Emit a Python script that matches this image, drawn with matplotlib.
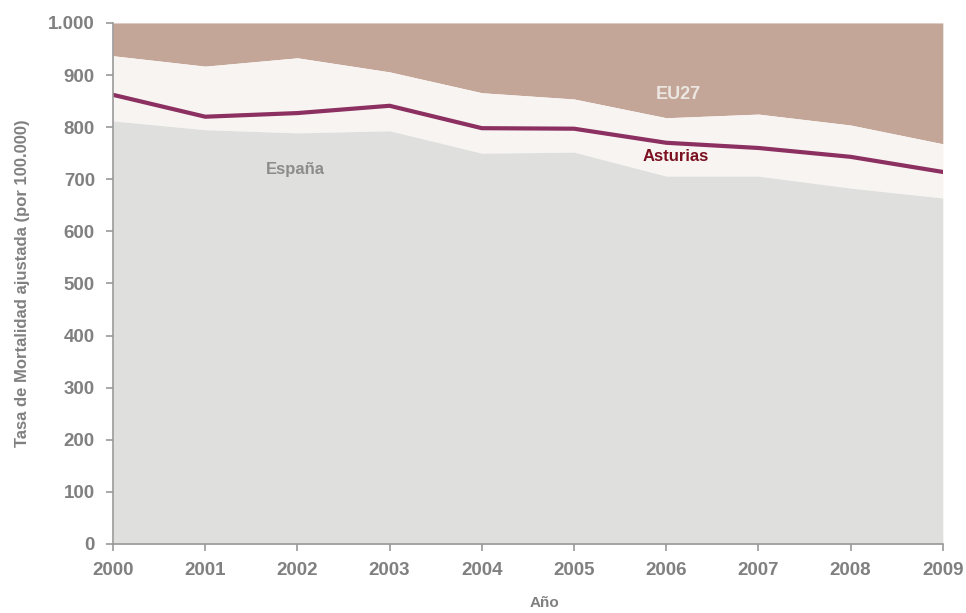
import matplotlib
matplotlib.use('Agg')
from matplotlib import pyplot as plt
from matplotlib.ticker import FuncFormatter

years = [2000, 2001, 2002, 2003, 2004, 2005, 2006, 2007, 2008, 2009]
eu27 = [937, 917, 933, 906, 866, 854, 818, 825, 804, 768]
asturias = [862, 820, 827, 841, 798, 797, 770, 760, 743, 714]
espana = [812, 795, 789, 793, 750, 752, 706, 706, 683, 664]
y_top = 1000

grey = '#808080'
plt.rcParams['font.family'] = ['Liberation Sans', 'DejaVu Sans']

fig = plt.figure(figsize=(9.66, 6.13), dpi=100)
ax = fig.add_axes([0.117, 0.1126, 0.859, 0.85])

ax.fill_between(years, eu27, y_top, color='#c4a698', lw=0)
ax.fill_between(years, espana, eu27, color='#f8f4f2', lw=0)
ax.fill_between(years, 0, espana, color='#dfe0dd', lw=0)
ax.plot(years, asturias, color='#8b3060', lw=3)

ax.text(2001.98, 718, 'España', color='#8c8c8c', fontsize=12, fontweight='bold', ha='center', va='center')
ax.text(2006.1, 743, 'Asturias', color='#7a1020', fontsize=12, fontweight='bold', ha='center', va='center')
ax.text(2006.13, 862, 'EU27', color='#ece6e2', fontsize=13, fontweight='bold', ha='center', va='center')

ax.set_xlim(2000, 2009)
ax.set_ylim(0, 1000)
ax.set_xticks(years)
ax.set_yticks(range(0, 1001, 100))
ax.yaxis.set_major_formatter(FuncFormatter(lambda v, p: f'{int(v):,}'.replace(',', '.')))

for s in ['top', 'right']:
    ax.spines[s].set_visible(False)
for s in ['left', 'bottom']:
    ax.spines[s].set_color('#999999')
    ax.spines[s].set_linewidth(1.2)
ax.tick_params(colors='#999999', length=5, width=1.2, pad=8)
for lab in ax.get_xticklabels() + ax.get_yticklabels():
    lab.set_color(grey)
    lab.set_fontsize(13.5)
    lab.set_fontweight('bold')

ax.set_ylabel('Tasa de Mortalidad ajustada (por 100.000)', color=grey, fontsize=12, fontweight='bold', labelpad=13)
ax.set_xlabel('Año', color=grey, fontsize=11, fontweight='bold', labelpad=12)
ax.xaxis.set_label_coords(0.52, -0.1)

fig.savefig('out.png', dpi=100)
